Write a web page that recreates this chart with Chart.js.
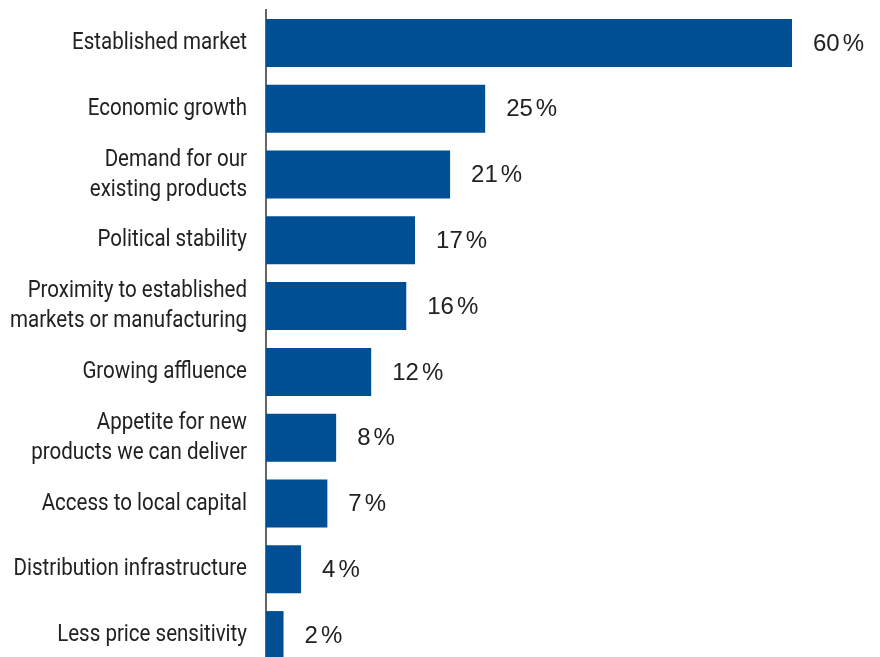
<!DOCTYPE html>
<html>
<head>
<meta charset="utf-8">
<script src="https://cdn.jsdelivr.net/npm/chart.js@4"></script>
<style>
  html, body { margin: 0; padding: 0; overflow: hidden; background: #fff; }
  #wrap { position: relative; width: 880px; height: 668px; }
</style>
</head>
<body>
<div id="wrap"><canvas id="factors"></canvas></div>
<script>
const categories = [
    "Established market",
    "Economic growth",
    ["Demand for our", "existing products"],
    "Political stability",
    ["Proximity to established", "markets or manufacturing"],
    "Growing affluence",
    ["Appetite for new", "products we can deliver"],
    "Access to local capital",
    "Distribution infrastructure",
    "Less price sensitivity",
];
const shares = [60, 25, 21, 17, 16, 12, 8, 7, 4, 2];

const labelFont = "Roboto, sans-serif";
const valueFont = "'Liberation Sans', Arial, sans-serif";

// category names, squeezed horizontally to get a condensed look
const categoryLabels = {
    id: "categoryLabels",
    afterDraw(chart) {
        const { ctx } = chart;
        const yScale = chart.scales.y;
        const right = chart.chartArea.left - 19;
        const lineGap = 30;
        ctx.save();
        ctx.font = "24px " + labelFont;
        ctx.fillStyle = "#222";
        ctx.textAlign = "right";
        ctx.textBaseline = "middle";
        categories.forEach((label, i) => {
            const lines = Array.isArray(label) ? label : [label];
            const y = yScale.getPixelForTick(i);
            const first = y - ((lines.length - 1) * lineGap) / 2;
            lines.forEach((line, j) => {
                ctx.save();
                ctx.translate(right, first + j * lineGap);
                ctx.scale(0.855, 1);
                ctx.fillText(line, 0, 0);
                ctx.restore();
            });
        });
        ctx.restore();
    },
};

// writes "NN %" to the right of each bar, with a small gap before the sign
const valueLabels = {
    id: "valueLabels",
    afterDatasetsDraw(chart) {
        const { ctx } = chart;
        const meta = chart.getDatasetMeta(0);
        ctx.save();
        ctx.font = "24px " + valueFont;
        ctx.fillStyle = "#222";
        ctx.textAlign = "left";
        ctx.textBaseline = "middle";
        meta.data.forEach((bar, i) => {
            const num = String(shares[i]);
            const x = bar.x + 21;
            ctx.fillText(num, x, bar.y + 1);
            ctx.fillText("%", x + ctx.measureText(num).width + 3, bar.y + 1);
        });
        ctx.restore();
    },
};

const ctx = document.querySelector("#factors");

new Chart(ctx, {
    type: "bar",
    data: {
        labels: categories,
        datasets: [
            {
                data: shares,
                backgroundColor: "#004f95",
                borderWidth: 0,
                barPercentage: 0.73,
                categoryPercentage: 1,
            },
        ],
    },
    options: {
        indexAxis: "y",
        responsive: true,
        maintainAspectRatio: false,
        animation: false,
        layout: {
            padding: { top: 10, right: 88, bottom: 0, left: 0 },
        },
        scales: {
            x: {
                display: false,
                min: 0,
                max: 60,
            },
            y: {
                grid: { display: false },
                border: { display: true, color: "#666", width: 2, z: -1 },
                ticks: { display: false },
                afterFit: (scale) => {
                    scale.width = 266;
                    scale.paddingTop = 0;
                    scale.paddingBottom = 0;
                },
            },
        },
        plugins: {
            legend: { display: false },
            tooltip: { enabled: false },
        },
    },
    plugins: [valueLabels, categoryLabels],
});
</script>
</body>
</html>
